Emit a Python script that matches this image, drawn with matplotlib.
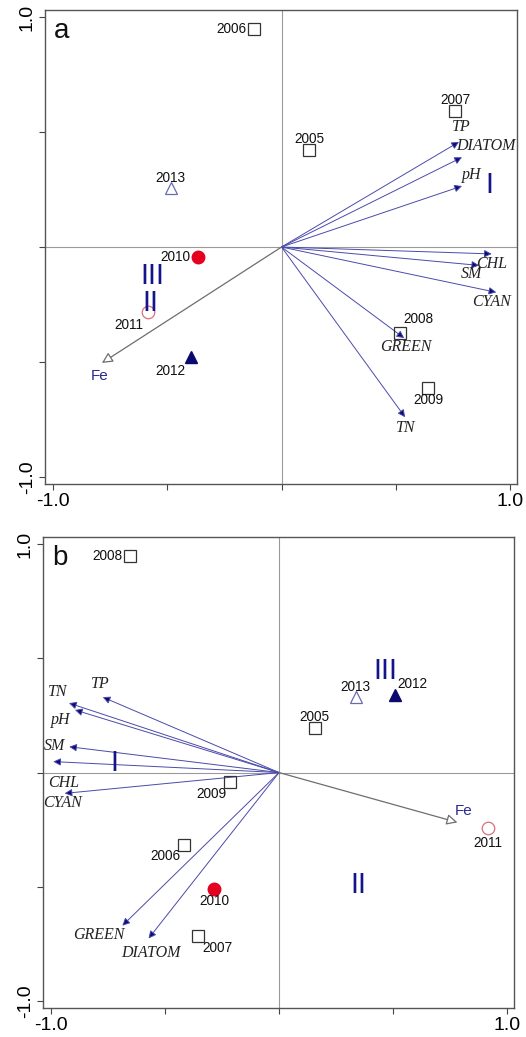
import matplotlib.pyplot as plt

# sample years and their ordination scores
years = ['2005', '2006', '2007', '2008', '2009', '2010', '2011', '2012', '2013']
sites_a_x = [0.122, -0.122, 0.76, 0.52, 0.642, -0.367, -0.585, -0.397, -0.485]
sites_a_y = [0.42, 0.948, 0.59, -0.374, -0.613, -0.043, -0.283, -0.478, 0.256]
sites_b_x = [0.157, -0.415, -0.354, -0.655, -0.214, -0.284, 0.917, 0.51, 0.336]
sites_b_y = [0.195, -0.317, -0.717, 0.948, -0.04, -0.508, -0.243, 0.34, 0.33]

# response variables (arrows)
variables = ['TP', 'DIATOM', 'pH', 'CHL', 'SM', 'CYAN', 'GREEN', 'TN']
vars_a_x = [0.777, 0.79, 0.79, 0.92, 0.865, 0.94, 0.537, 0.541]
vars_a_y = [0.457, 0.39, 0.265, -0.03, -0.08, -0.197, -0.396, -0.74]
vars_b_x = [-0.773, -0.572, -0.895, -0.99, -0.92, -0.94, -0.687, -0.921]
vars_b_y = [0.33, -0.726, 0.274, 0.048, 0.113, -0.091, -0.67, 0.304]

# explanatory variable
fe_a = (-0.786, -0.504)
fe_b = (0.782, -0.218)

# group labels
groups = ['I', 'II', 'III']
groups_a_x = [0.908, -0.572, -0.563]
groups_a_y = [0.27, -0.243, -0.126]
groups_b_x = [-0.72, 0.349, 0.467]
groups_b_y = [0.043, -0.491, 0.443]

# marker style per year
def marker_style(y):
    if y == '2010':
        return dict(marker='o', mfc='#e60020', mec='#e60020', ms=9)
    if y == '2011':
        return dict(marker='o', mfc='none', mec='#d8707e', ms=9, mew=0.9)
    if y == '2012':
        return dict(marker='^', mfc='#0a0a6e', mec='#0a0a6e', ms=8)
    if y == '2013':
        return dict(marker='^', mfc='none', mec='#6a6ab0', ms=8.5, mew=0.9)
    return dict(marker='s', mfc='none', mec='#333333', ms=9, mew=0.9)

sans = 'Liberation Sans'
serif = 'Liberation Serif'
navy = '#14148a'

# label offsets in pixels
year_off_a = {'2005': (0, 11, 'center'), '2006': (-7, 0, 'right'), '2007': (0, 11, 'center'),
              '2008': (18, 14, 'center'), '2009': (0, -12, 'center'), '2010': (-7, 0, 'right'),
              '2011': (-19, -13, 'center'), '2012': (-20, -14, 'center'), '2013': (0, 10, 'center')}
year_off_b = {'2005': (0, 11, 'center'), '2006': (-19, -11, 'center'), '2007': (19, -12, 'center'),
              '2008': (-7, 0, 'right'), '2009': (-19, -12, 'center'), '2010': (0, -12, 'center'),
              '2011': (0, -15, 'center'), '2012': (17, 11, 'center'), '2013': (0, 10, 'center')}
var_off_a = {'TP': (2, 15, 'center'), 'DIATOM': (-6, 11, 'left'), 'pH': (10, 11, 'center'),
             'CHL': (0, -10, 'center'), 'SM': (-8, -9, 'center'), 'CYAN': (-5, -10, 'center'),
             'GREEN': (2, -9, 'center'), 'TN': (1, -11, 'center')}
var_off_b = {'TP': (-2, 13, 'center'), 'DIATOM': (2, -15, 'center'), 'pH': (-14, -10, 'center'),
             'CHL': (10, -21, 'center'), 'SM': (-15, 1, 'center'), 'CYAN': (-2, -10, 'center'),
             'GREEN': (-24, -9, 'center'), 'TN': (-11, 11, 'center')}


def draw_panel(ax, letter, sx, sy, vx, vy, fe, fe_off, gx, gy, year_off, var_off):
    ax.set_xlim(-1.035, 1.03)
    ax.set_ylim(-1.03, 1.03)
    ax.axhline(0, color='#9a9a9a', lw=0.8, zorder=1)
    ax.axvline(0, color='#9a9a9a', lw=0.8, zorder=1)

    for name, x, y in zip(variables, vx, vy):
        ax.annotate('', xy=(x, y), xytext=(0, 0),
                    arrowprops=dict(arrowstyle='-|>', lw=0.7,
                                    mutation_scale=11, shrinkA=0, shrinkB=0,
                                    fc='#0a0a78', ec='#4a4aaa'), zorder=2)
        dx, dy, ha = var_off[name]
        ax.annotate(name, (x, y), xytext=(dx, dy), textcoords='offset pixels',
                    ha=ha, va='center', fontsize=11.5, family=serif, style='italic',
                    color='#222222')

    ax.annotate('', xy=fe, xytext=(0, 0),
                arrowprops=dict(arrowstyle='-|>', lw=0.9, mutation_scale=16,
                                shrinkA=0, shrinkB=0, fc='white', ec='#6e6e6e'), zorder=2)
    ax.annotate('Fe', fe, xytext=fe_off, textcoords='offset pixels', ha='center',
                va='center', fontsize=11, family=sans, color='#2a2a90')

    for y, x, yy in zip(years, sx, sy):
        ax.plot(x, yy, linestyle='none', zorder=3, **marker_style(y))
        dx, dy, ha = year_off[y]
        ax.annotate(y, (x, yy), xytext=(dx, dy), textcoords='offset pixels',
                    ha=ha, va='center', fontsize=9.8, family=sans, color='#111111')

    for g, x, y in zip(groups, gx, gy):
        ax.text(x, y, g, ha='center', va='center', fontsize=21, family=sans,
                color=navy, zorder=4)

    ax.text(0.035, 0.955, letter, transform=ax.transAxes, ha='center', va='center',
            fontsize=20, family=sans, color='#111111')

    ax.set_xticks([-1, -0.5, 0, 0.5, 1])
    ax.set_yticks([-1, -0.5, 0, 0.5, 1])
    ax.set_xticklabels(['-1.0', '', '', '', '1.0'], family=sans, fontsize=14)
    ax.set_yticklabels(['-1.0', '', '', '', '1.0'], family=sans, fontsize=14,
                       rotation=90, va='center')
    ax.tick_params(direction='out', length=4, width=0.8, color='#444444', pad=2.5)
    for s in ax.spines.values():
        s.set_color('#555555')
        s.set_linewidth(1.0)


fig = plt.figure(figsize=(5.26, 10.37), dpi=100)
ax1 = fig.add_axes([0.0856, 0.5333, 0.897, 0.457])
ax2 = fig.add_axes([0.0817, 0.028, 0.8954, 0.454])

draw_panel(ax1, 'a', sites_a_x, sites_a_y, vars_a_x, vars_a_y, fe_a, (-2, -13),
           groups_a_x, groups_a_y, year_off_a, var_off_a)
draw_panel(ax2, 'b', sites_b_x, sites_b_y, vars_b_x, vars_b_y, fe_b, (6, 11),
           groups_b_x, groups_b_y, year_off_b, var_off_b)

fig.savefig('out.png', dpi=100)
